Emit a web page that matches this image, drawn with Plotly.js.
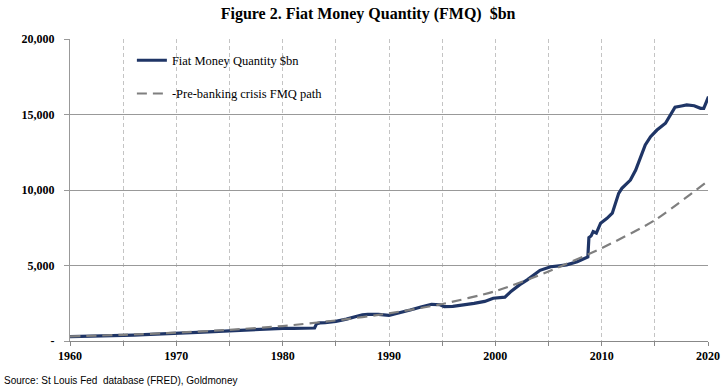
<!DOCTYPE html>
<html>
<head>
<meta charset="utf-8">
<script src="https://cdn.plot.ly/plotly-3.0.1.min.js"></script>
<style>
html,body{margin:0;padding:0;background:#fff;}
#chart{width:726px;height:390px;}
</style>
</head>
<body>
<div id="chart"></div>
<script>
// Fiat Money Quantity ($bn)
var fmqYears = [1960,1961,1962,1963,1964,1965,1966,1967,1968,1969,1970,1971,1972,1973,1974,1975,1976,1977,1978,1979,1980,1981,1982,1983.0,1983.2,1983.5,1984,1985,1986,1987,1987.5,1988,1989,1990,1991,1992,1993,1994,1994.8,1995.2,1996,1997,1998,1999,1999.8,2000.9,2001.5,2002.3,2003,2004.2,2005.2,2006,2006.7,2007.7,2008.5,2008.7,2008.8,2009.0,2009.2,2009.5,2009.9,2010.5,2011,2011.3,2011.6,2011.9,2012.3,2012.7,2013.2,2013.6,2014.1,2014.6,2015.2,2016,2016.6,2016.9,2017.5,2018,2018.7,2019.3,2019.6,2019.9,2020.05];
var fmqValues = [290,300,320,340,360,380,395,420,445,460,470,515,565,605,635,660,700,755,795,815,840,830,850,860,1150,1200,1220,1300,1450,1680,1740,1760,1760,1700,1850,2050,2250,2430,2400,2270,2290,2380,2490,2620,2830,2900,3300,3730,4050,4680,4920,4980,5040,5250,5470,5560,6850,6950,7250,7150,7800,8120,8460,9100,9780,10110,10400,10660,11320,12100,12980,13530,13970,14420,15080,15480,15560,15630,15580,15410,15400,15960,16180];

// Pre-banking crisis FMQ path ($bn)
var pathYears = [1960,1965,1970,1975,1980,1985,1990,1995,2000,2005,2010,2015,2020];
var pathValues = [300,410,550,740,990,1360,1830,2450,3300,4600,6150,8000,10600];

var yTickVals = [0,5000,10000,15000,20000];
var yTickText = ['-','5,000','10,000','15,000','20,000'];
var xTickVals = [1960,1970,1980,1990,2000,2010,2020];

var serif = 'Liberation Serif, DejaVu Serif, serif';

var traces = [
  {x: fmqYears, y: fmqValues, type: 'scatter', mode: 'lines',
   name: 'Fiat Money Quantity $bn', legendgroup: 'a',
   line: {color: '#1f3566', width: 3.2}},
  {x: pathYears, y: pathValues, type: 'scatter', mode: 'lines',
   name: '-Pre-banking crisis FMQ path', legendgroup: 'b',
   line: {color: '#7f7f7f', width: 2.2, dash: '10px,6px', shape: 'spline', smoothing: 0.6}}
];

var layout = {
  width: 726, height: 390,
  margin: {l: 70, r: 18, t: 39, b: 49},
  paper_bgcolor: '#fff', plot_bgcolor: '#fff',
  title: {text: 'Figure 2. Fiat Money Quantity (FMQ)  $bn', x: 0.507, xanchor: 'center', y: 0.965, yanchor: 'middle',
          font: {family: serif, size: 16, color: '#000', weight: 'bold'}},
  showlegend: true,
  legend: {x: 0.097, y: 0.978, xanchor: 'left', yanchor: 'top', bgcolor: 'rgba(0,0,0,0)',
           traceorder: 'grouped', tracegroupgap: 14,
           font: {family: serif, size: 12.5, color: '#000'}},
  xaxis: {range: [1960, 2020], tickvals: xTickVals, ticktext: xTickVals.map(String),
          showgrid: true, gridcolor: '#c4c4c4', griddash: '4px,3px', gridwidth: 1,
          minor: {dtick: 5, tick0: 1960, showgrid: true, gridcolor: '#c4c4c4', griddash: '4px,3px', ticks: 'outside', ticklen: 4, tickcolor: '#888'},
          showline: true, linecolor: '#888', linewidth: 1,
          ticks: 'outside', ticklen: 4, tickcolor: '#888',
          zeroline: false, fixedrange: true,
          tickfont: {family: serif, size: 12, color: '#000', weight: 'bold'}},
  yaxis: {range: [0, 20000], tickvals: yTickVals, ticktext: yTickText,
          showgrid: true, gridcolor: '#999', gridwidth: 1,
          showline: true, linecolor: '#999', linewidth: 1,
          ticks: 'outside', ticklen: 5, tickcolor: '#999', ticklabelstandoff: 7,
          zeroline: false, fixedrange: true,
          tickfont: {family: serif, size: 12, color: '#000', weight: 'bold'}},
  annotations: [
    {text: 'Source: St Louis Fed  database (FRED), Goldmoney', xref: 'paper', yref: 'paper',
     x: -0.107, y: -0.105, xanchor: 'left', yanchor: 'top', showarrow: false,
     font: {family: 'Liberation Sans, Arial, sans-serif', size: 10, color: '#000'}}
  ]
};

Plotly.newPlot('chart', traces, layout, {displayModeBar: false, staticPlot: true});
</script>
</body>
</html>
